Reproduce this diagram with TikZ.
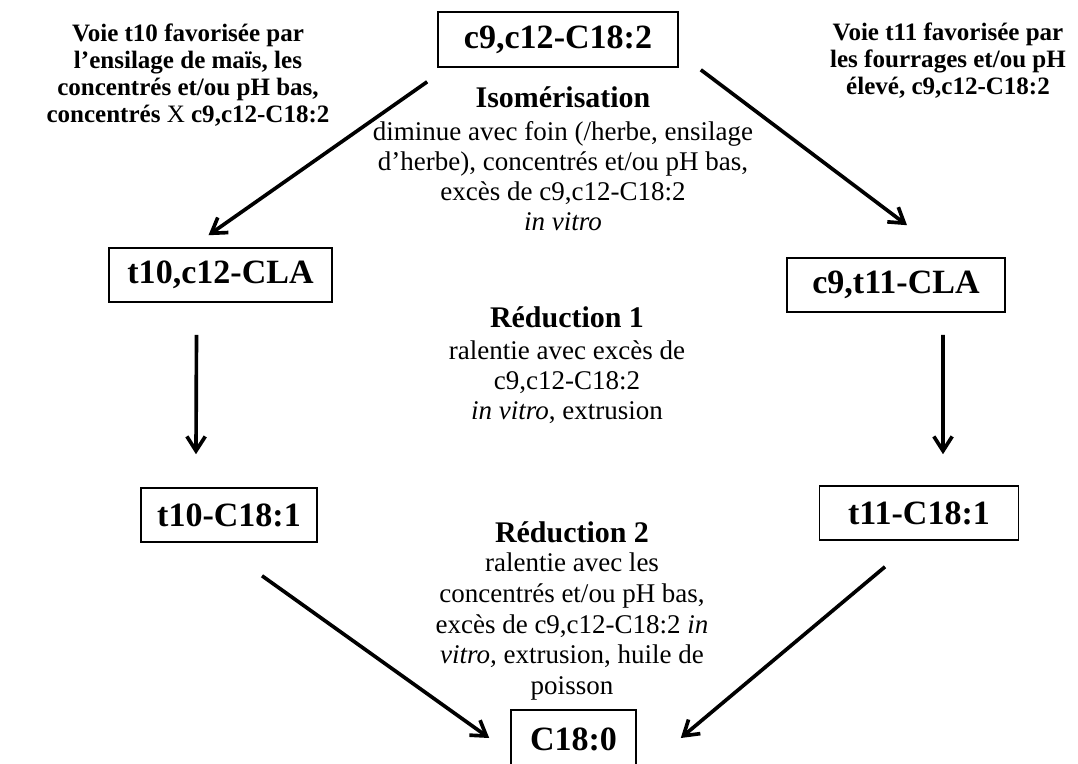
\documentclass[tikz,border=0pt]{standalone}
\usepackage{fontspec}
\setmainfont{Liberation Serif}
\usetikzlibrary{arrows.meta}

\begin{document}
\begin{tikzpicture}[
  x=0.025cm, y=-0.025cm,
  every node/.style={align=center, inner sep=0pt},
  boite/.style={draw, line width=1.1pt, minimum height=1.35cm, font=\bfseries\fontsize{24.2}{28}\selectfont},
  titre/.style={font=\bfseries\fontsize{21.3}{24}\selectfont},
  texte/.style={font=\fontsize{19.2}{21.3}\selectfont},
  voie/.style={font=\bfseries\fontsize{17.8}{19.2}\selectfont},
  fleche/.style={-{Straight Barb[length=3.6mm,width=4.6mm]}, line width=2.6pt}
]
\useasboundingbox (0,0) rectangle (1078,763);

% Acides gras
\node[boite, minimum width=6cm, minimum height=1.375cm] (c9c12) at (558,39.5) {c9,c12-C18:2};
\node[boite, minimum width=5.575cm] (t10c12) at (220.5,275) {t10,c12-CLA};
\node[boite, minimum width=5.45cm] (c9t11) at (896,285) {c9,t11-CLA};
\node[boite, minimum width=4.4cm] (t10C181) at (229,515) {t10-C18:1};
\node[boite, minimum width=4.975cm] (t11C181) at (919,513) {t11-C18:1};
\node[boite, minimum width=3.125cm, minimum height=1.45cm] (C180) at (573.5,739) {C18:0};

% Voies
\node[voie] (voiet10) at (188,75.5) {Voie t10 favorisée par\\ l’ensilage de maïs, les\\ concentrés et/ou pH bas,\\ concentrés \textmd{X} c9,c12-C18:2};
\node[voie] (voiet11) at (948,60.5) {Voie t11 favorisée par\\ les fourrages et/ou pH\\ élevé, c9,c12-C18:2};

% Etapes
\node[titre] (iso) at (563,97) {Isomérisation};
\node[texte] (isotxt) at (563,176.5) {diminue avec foin (/herbe, ensilage\\ d’herbe), concentrés et/ou pH bas,\\ excès de c9,c12-C18:2\\ \textit{in vitro}};
\node[titre] (red1) at (567,317) {Réduction 1};
\node[texte] (red1txt) at (567,382) {ralentie avec excès de\\ c9,c12-C18:2\\ \textit{in vitro}, extrusion};
\node[titre] (red2) at (572,532) {Réduction 2};
\node[texte, font=\fontsize{19.2}{21.8}\selectfont] (red2txt) at (572,626.5) {ralentie avec les\\ concentrés et/ou pH bas,\\ excès de c9,c12-C18:2 \textit{in}\\ \textit{vitro,} extrusion, huile de\\ poisson};

% Fleches
\draw[fleche] ([xshift=-0.25cm,yshift=-0.35cm]c9c12.south west) -- ([xshift=-0.3cm,yshift=0.3cm]t10c12.north);
\draw[fleche] ([xshift=0.55cm,yshift=-0.05cm]c9c12.south east) -- ([xshift=0.275cm,yshift=0.8cm]c9t11.north);
\draw[fleche] ([xshift=-0.6cm,yshift=-0.8cm]t10c12.south) -- ([xshift=-0.825cm,yshift=0.825cm]t10C181.north);
\draw[fleche] ([xshift=1.175cm,yshift=-0.55cm]c9t11.south) -- ([xshift=0.6cm,yshift=0.775cm]t11C181.north);
\draw[fleche] ([xshift=0.825cm,yshift=-0.825cm]t10C181.south) -- ([xshift=-0.525cm,yshift=0.025cm]C180.west);
\draw[fleche] ([xshift=-0.85cm,yshift=-0.65cm]t11C181.south) -- ([xshift=1.1cm,yshift=0.025cm]C180.east);
\end{tikzpicture}
\end{document}
